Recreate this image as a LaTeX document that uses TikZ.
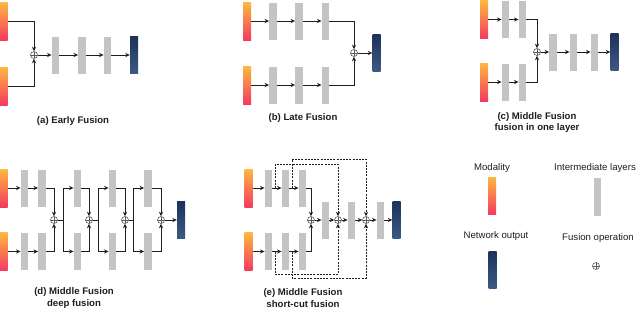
\documentclass[tikz,border=0pt]{standalone}
\usepackage{fontspec}
\setmainfont{Liberation Sans}
\usetikzlibrary{arrows.meta}
\definecolor{modtop}{RGB}{253,184,64}
\definecolor{modbot}{RGB}{244,58,96}
\definecolor{laygray}{RGB}{196,196,196}
\definecolor{navtop}{RGB}{28,50,90}
\definecolor{navbot}{RGB}{60,90,132}
\definecolor{linec}{RGB}{30,30,30}
\definecolor{txt}{RGB}{30,30,30}
\tikzset{
  mod/.style={rectangle,inner sep=0,minimum width=8pt,minimum height=38pt,top color=modtop,bottom color=modbot,draw=none},
  lay/.style={rectangle,inner sep=0,minimum width=7.5pt,minimum height=37pt,fill=laygray,draw=none},
  outp/.style={rectangle,inner sep=0,minimum width=8pt,minimum height=37pt,top color=navtop,bottom color=navbot,draw=none},
  fus/.style={circle,inner sep=0,minimum size=7pt,draw=gray!70!black,line width=0.6pt,
    path picture={\draw[gray!70!black,line width=0.6pt] (path picture bounding box.north) -- (path picture bounding box.south) (path picture bounding box.west) -- (path picture bounding box.east);}},
  conn/.style={draw=linec,line width=0.9pt},
  arr/.style={conn,-{Stealth[length=4.5pt,width=4.2pt]}},
  sc/.style={arr,dashed,dash pattern=on 2pt off 1.2pt},
  captxt/.style={font=\fontsize{9.6}{11.5}\selectfont\bfseries,text=txt,align=center,inner sep=0},
  leg/.style={font=\fontsize{9.6}{11}\selectfont,text=txt,inner sep=0}
}
\begin{document}
\begin{tikzpicture}[x=1pt,y=-1pt]
\useasboundingbox (0,0) rectangle (640,311);
% ---------- (a) Early fusion
\node[mod] (aM1) at (3.5,21) {};
\node[mod] (aM2) at (3.5,86) {};
\node[fus] (aF) at (34,55) {};
\node[lay] (aL1) at (55.5,55) {};
\node[lay] (aL2) at (82,55) {};
\node[lay] (aL3) at (107.5,55) {};
\node[outp] (aO) at (134,55) {};
\draw[arr] (aM1.east) -| (aF.north);
\draw[arr] (aM2.east) -| (aF.south);
\draw[arr] (aF) -- (aL1);
\draw[arr] (aL1) -- (aL2);
\draw[arr] (aL2) -- (aL3);
\draw[arr] (aL3) -- (aO);
\node[captxt] (aC) at (73,121) {(a) Early Fusion};
% ---------- (b) Late fusion
\node[mod] (bM1) at (247,21) {};
\node[lay] (bT1) at (273,21) {};
\node[lay] (bT2) at (299,21) {};
\node[lay] (bT3) at (325.5,21) {};
\node[mod] (bM2) at (247,85) {};
\node[lay] (bB1) at (273,85) {};
\node[lay] (bB2) at (299,85) {};
\node[lay] (bB3) at (325.5,85) {};
\node[fus] (bF) at (354,53) {};
\node[outp] (bO) at (376.5,53) {};
\draw[arr] (bM1) -- (bT1);
\draw[arr] (bT1) -- (bT2);
\draw[arr] (bT2) -- (bT3);
\draw[arr] (bM2) -- (bB1);
\draw[arr] (bB1) -- (bB2);
\draw[arr] (bB2) -- (bB3);
\draw[arr] (bT3.east) -| (bF.north);
\draw[arr] (bB3.east) -| (bF.south);
\draw[arr] (bF) -- (bO);
\node[captxt] (bC) at (303,118) {(b) Late Fusion};
% ---------- (c) Middle fusion, one layer
\node[mod] (cM1) at (484,19.5) {};
\node[lay] (cT1) at (505.5,19.5) {};
\node[lay] (cT2) at (522.5,19.5) {};
\node[mod] (cM2) at (484,82) {};
\node[lay] (cB1) at (505.5,82) {};
\node[lay] (cB2) at (522.5,82) {};
\node[fus] (cF) at (537,52) {};
\node[lay] (cL1) at (553,52) {};
\node[lay] (cL2) at (573.5,52) {};
\node[lay] (cL3) at (594.5,52) {};
\node[outp] (cO) at (614.5,52) {};
\draw[arr] (cM1) -- (cT1);
\draw[arr] (cT1) -- (cT2);
\draw[arr] (cM2) -- (cB1);
\draw[arr] (cB1) -- (cB2);
\draw[arr] (cT2.east) -| (cF.north);
\draw[arr] (cB2.east) -| (cF.south);
\draw[arr] (cF) -- (cL1);
\draw[arr] (cL1) -- (cL2);
\draw[arr] (cL2) -- (cL3);
\draw[arr] (cL3) -- (cO);
\node[captxt] (cC) at (537,122.5) {(c) Middle Fusion\\fusion in one layer};
% ---------- (d) Middle fusion, deep
\node[mod] (dM1) at (3.5,188) {};
\node[lay] (dT1) at (24.5,188) {};
\node[lay] (dT2) at (42,188) {};
\node[mod] (dM2) at (3.5,251.5) {};
\node[lay] (dB1) at (24.5,251.5) {};
\node[lay] (dB2) at (42,251.5) {};
\node[fus] (dF1) at (54,220) {};
\node[lay] (dT3) at (77.5,188) {};
\node[lay] (dB3) at (77.5,251.5) {};
\node[fus] (dF2) at (89,220) {};
\node[lay] (dT4) at (112.5,188) {};
\node[lay] (dB4) at (112.5,251.5) {};
\node[fus] (dF3) at (125,220) {};
\node[lay] (dT5) at (148,188) {};
\node[lay] (dB5) at (148,251.5) {};
\node[fus] (dF4) at (161,220) {};
\node[outp] (dO) at (181,220) {};
\coordinate (dS1) at (63,220);
\coordinate (dS2) at (98,220);
\coordinate (dS3) at (133,220);
\draw[arr] (dM1) -- (dT1);
\draw[arr] (dT1) -- (dT2);
\draw[arr] (dM2) -- (dB1);
\draw[arr] (dB1) -- (dB2);
\draw[arr] (dT2.east) -| (dF1.north);
\draw[arr] (dB2.east) -| (dF1.south);
\draw[conn] (dF1) -- (dS1);
\draw[arr] (dS1) |- (dT3.west);
\draw[arr] (dS1) |- (dB3.west);
\draw[arr] (dT3.east) -| (dF2.north);
\draw[arr] (dB3.east) -| (dF2.south);
\draw[conn] (dF2) -- (dS2);
\draw[arr] (dS2) |- (dT4.west);
\draw[arr] (dS2) |- (dB4.west);
\draw[arr] (dT4.east) -| (dF3.north);
\draw[arr] (dB4.east) -| (dF3.south);
\draw[conn] (dF3) -- (dS3);
\draw[arr] (dS3) |- (dT5.west);
\draw[arr] (dS3) |- (dB5.west);
\draw[arr] (dT5.east) -| (dF4.north);
\draw[arr] (dB5.east) -| (dF4.south);
\draw[arr] (dF4) -- (dO);
\node[captxt] (dC) at (74,298) {(d) Middle Fusion\\deep fusion};
% ---------- (e) Middle fusion, short-cut
\node[mod] (eM1) at (248.5,188) {};
\node[lay] (eT1) at (268.5,188) {};
\node[lay] (eT2) at (285.5,188) {};
\node[lay] (eT3) at (302.5,188) {};
\node[mod] (eM2) at (248.5,251.5) {};
\node[lay] (eB1) at (268.5,251.5) {};
\node[lay] (eB2) at (285.5,251.5) {};
\node[lay] (eB3) at (302.5,251.5) {};
\node[fus] (eF1) at (311,220) {};
\node[lay] (eL1) at (325.5,220) {};
\node[fus] (eF2) at (338,220) {};
\node[lay] (eL2) at (351.5,220) {};
\node[fus] (eF3) at (366,220) {};
\node[lay] (eL3) at (380.5,220) {};
\node[outp] (eO) at (396.5,220) {};
\coordinate (eA1) at (275,188);
\coordinate (eA2) at (292,188);
\coordinate (eA3) at (275,251.5);
\coordinate (eA4) at (292,251.5);
\draw[arr] (eM1) -- (eT1);
\draw[arr] (eT1) -- (eT2);
\draw[arr] (eT2) -- (eT3);
\draw[arr] (eM2) -- (eB1);
\draw[arr] (eB1) -- (eB2);
\draw[arr] (eB2) -- (eB3);
\draw[arr] (eT3.east) -| (eF1.north);
\draw[arr] (eB3.east) -| (eF1.south);
\draw[arr] (eF1) -- (eL1);
\draw[arr] (eL1) -- (eF2);
\draw[arr] (eF2) -- (eL2);
\draw[arr] (eL2) -- (eF3);
\draw[arr] (eF3) -- (eL3);
\draw[arr] (eL3) -- (eO);
\draw[sc] (eA1) -- ++(0,-24) -| (eF2.north);
\draw[sc] (eA2) -- ++(0,-29) -| (eF3.north);
\draw[sc] (eA3) -- ++(0,22.5) -| (eF2.south);
\draw[sc] (eA4) -- ++(0,26.5) -| (eF3.south);
\node[captxt] (eC) at (303,298) {(e) Middle Fusion\\short-cut fusion};
% ---------- legend
\node[leg] (gT1) at (492,168) {Modality};
\node[mod,minimum height=37pt] (gM) at (492,195.5) {};
\node[leg] (gT2) at (595,168) {Intermediate layers};
\node[lay,minimum height=38pt] (gL) at (597.5,197) {};
\node[leg] (gT3) at (496,236) {Network output};
\node[outp] (gO) at (492.5,269.5) {};
\node[leg] (gT4) at (598,238) {Fusion operation};
\node[fus] (gF) at (596,266) {};
\end{tikzpicture}
\end{document}
